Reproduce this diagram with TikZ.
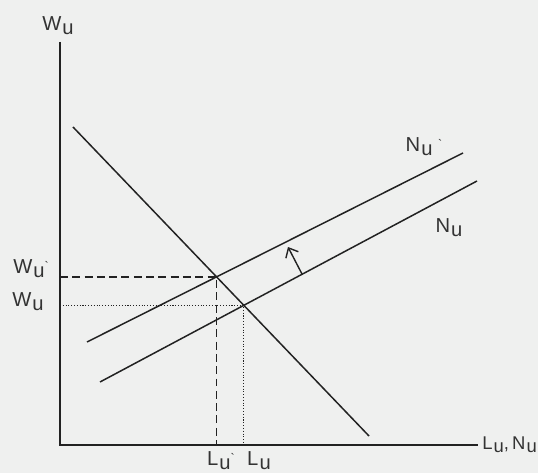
\documentclass[tikz,border=0pt]{standalone}
\usepackage{fontspec}
\setmainfont{Liberation Sans}
\usepackage{tikz}
\usetikzlibrary{arrows.meta, calc}
\definecolor{bgray}{HTML}{EFF0EF}
\definecolor{ink}{HTML}{222222}
\definecolor{txt}{HTML}{333333}
\newcommand{\lowu}{\kern0.6pt\raisebox{-0.35ex}{u}}
\newcommand{\tick}{\raisebox{0.35ex}{\scriptsize\textasciigrave}}
\tikzset{
    axisline/.style={draw=ink, line width=1.1pt},
    curve/.style={draw=ink, line width=0.85pt},
    guide/.style={draw=ink, line width=0.7pt, dash pattern=on 4.5pt off 2.5pt},
    guidedot/.style={draw=ink, line width=0.6pt, dash pattern=on 0.6pt off 1pt},
    shiftarrow/.style={draw=ink, line width=0.8pt, -{Straight Barb[length=4.5pt, width=8pt]}},
    lbl/.style={text=txt, font=\fontsize{11.5}{13}\selectfont, inner sep=0pt},
}

\begin{document}
\begin{tikzpicture}[x=0.02cm, y=-0.02cm]
        \fill[bgray] (0,0) rectangle (538,473);
        \useasboundingbox (0,0) rectangle (538,473);
        % axes
        \coordinate (O)    at (60,445);
        \coordinate (ytop) at (60,42);
        \coordinate (xend) at (478,445);
        % curves
        \coordinate (d1)  at (73,127);
        \coordinate (d2)  at (369,436);
        \coordinate (n1)  at (100,382);
        \coordinate (n2)  at (477,181);
        \coordinate (np1) at (87,342);
        \coordinate (np2) at (463,153);
        \coordinate (E1) at (intersection of d1--d2 and np1--np2);
        \coordinate (E0) at (intersection of d1--d2 and n1--n2);
        \coordinate (a1) at (302,274);
        \coordinate (a2) at (288,247);
        \draw[guide] (E1 -| O) -- (E1) -- (E1 |- O);
        \draw[guidedot] (E0 -| O) -- (E0) -- (E0 |- O);
        \draw[axisline] (ytop) -- (O) -- (xend);
        \draw[curve] (d1) -- (d2);
        \draw[curve] (n1) -- (n2);
        \draw[curve] (np1) -- (np2);
        \draw[shiftarrow] (a1) -- (a2);
        \node[lbl] (wtop) at (58,26)  {W\lowu};
        \node[lbl] (w1)   at (31,269) {W\lowu\tick};
        \node[lbl] (w0)   at (28,302) {W\lowu};
        \node[lbl] (l1)   at (221,461) {L\lowu\tick};
        \node[lbl] (l0)   at (259,461) {L\lowu};
        \node[lbl] (nup)  at (424,147) {N\lowu\ \tick};
        \node[lbl] (nu)   at (449,228) {N\lowu};
        \node[lbl, anchor=west, font=\fontsize{10.5}{12}\selectfont] (xlab) at (482,445) {L\lowu,\,N\lowu};
    \end{tikzpicture}
\end{document}
